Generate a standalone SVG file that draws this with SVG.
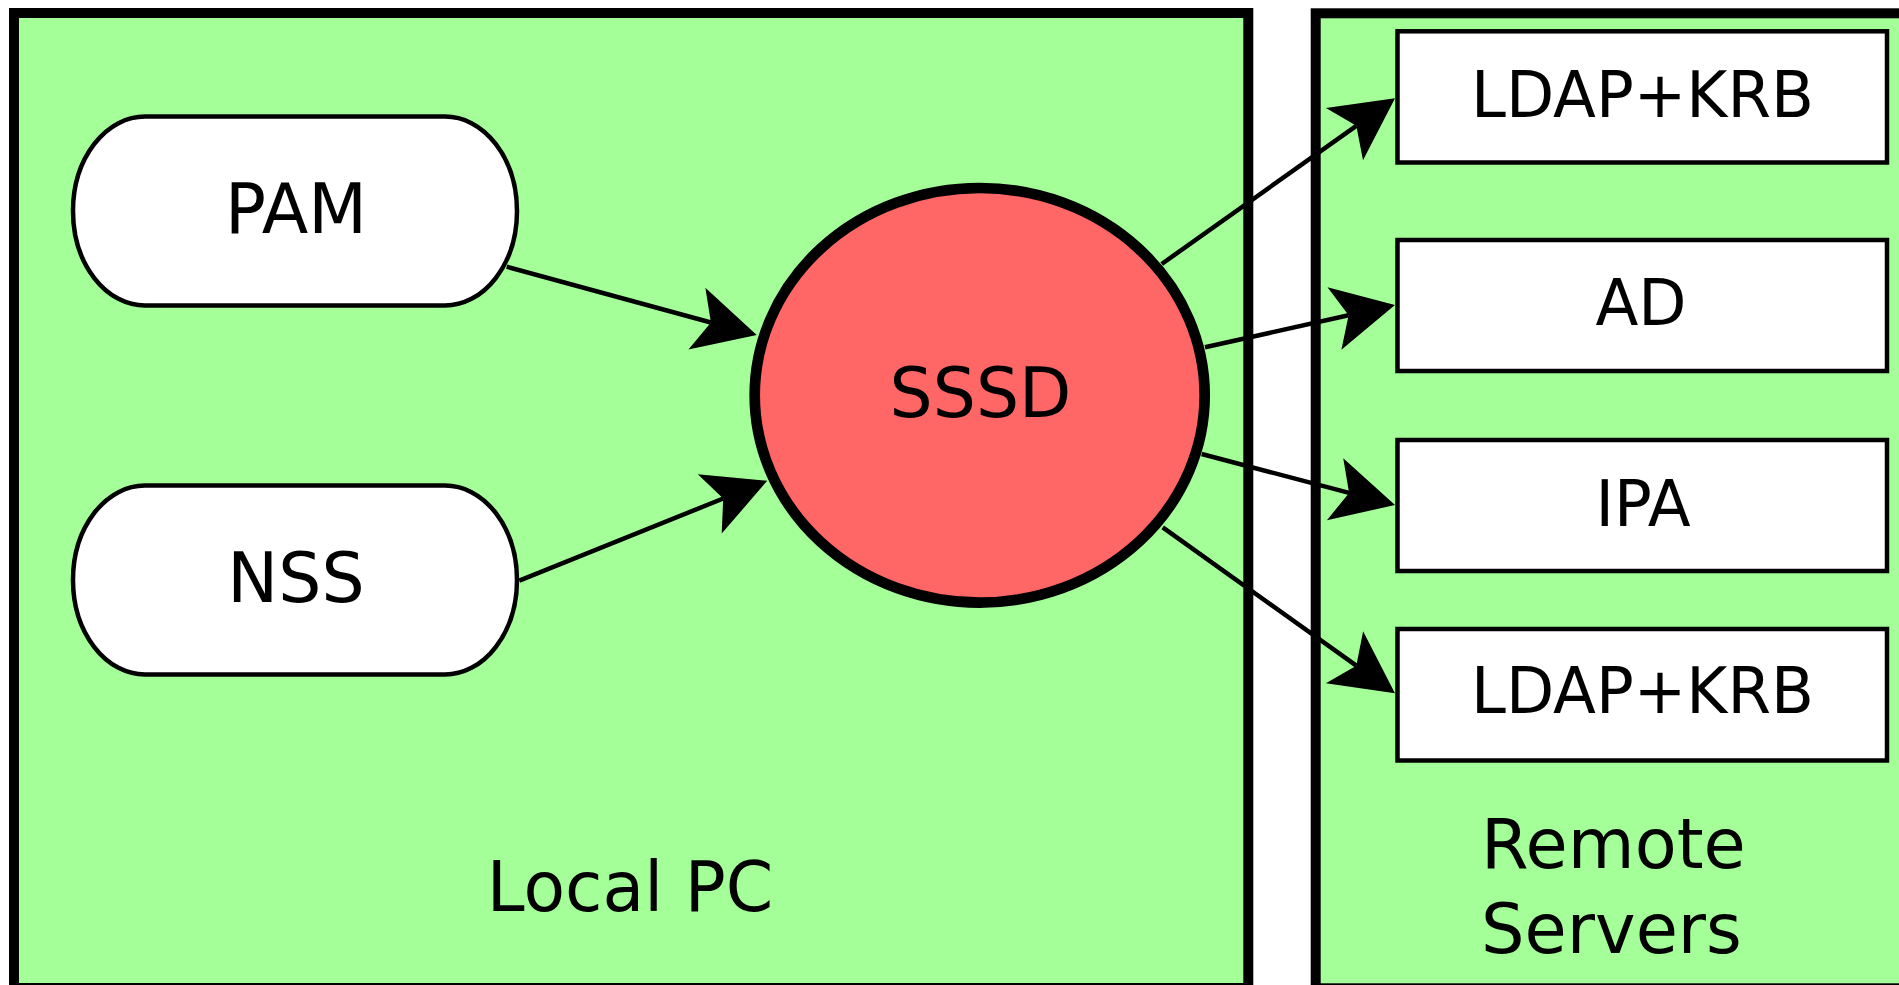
<svg xmlns="http://www.w3.org/2000/svg" width="1899" height="985" viewBox="0 0 1899 985">
  <style>
    .container { fill: #a5ff99; stroke: #000; stroke-width: 10; }
    .capsule { fill: #fff; stroke: #000; stroke-width: 4.5; }
    .box { fill: #fff; stroke: #000; stroke-width: 4.5; }
    .label { font-family: "DejaVu Sans", "Liberation Sans", sans-serif; fill: #000; }
    .big { font-size: 70px; }
    .small { font-size: 64.5px; }
    .mid { text-anchor: middle; }
    .conn { stroke: #000; stroke-width: 4.5; fill: none; marker-end: url(#arrow); }
  </style>
  <defs>
    <marker id="arrow" markerUnits="userSpaceOnUse" orient="auto" refX="0" refY="0" markerWidth="100" markerHeight="100" overflow="visible">
      <path d="M47.5,0 L-14.5,-32 L0,0 L-14.5,32 Z" fill="#000"/>
    </marker>
  </defs>
  <rect width="1899" height="985" fill="#fff"/>

  <g id="local-pc">
    <rect class="container" x="14" y="13" width="1234.3" height="975"/>
    <text class="label big mid" transform="translate(630 911) scale(0.972 1)">Local PC</text>
  </g>
  <g id="remote-servers">
    <rect class="container" x="1315.7" y="13.3" width="600" height="975"/>
    <text class="label" font-size="69" transform="translate(1481 868) scale(0.995 1)">Remote</text>
    <text class="label" font-size="69" transform="translate(1481 953) scale(0.995 1)">Servers</text>
  </g>

  <g id="pam">
    <rect class="capsule" x="73" y="116.5" width="444" height="189" rx="72" ry="94.5"/>
    <text class="label big mid" transform="translate(296 233.3) scale(0.972 1)">PAM</text>
  </g>
  <g id="nss">
    <rect class="capsule" x="73" y="485.5" width="444" height="189" rx="72" ry="94.5"/>
    <text class="label big mid" transform="translate(296 601.7) scale(0.972 1)">NSS</text>
  </g>
  <g id="sssd">
    <ellipse cx="979.7" cy="395.3" rx="225" ry="207.3" fill="#ff6666" stroke="#000" stroke-width="10.7"/>
    <text class="label big mid" transform="translate(980.5 416.7) scale(0.972 1)">SSSD</text>
  </g>
  <g id="ldap-krb-1">
    <rect class="box" x="1397.5" y="31.3" width="489.5" height="131.2"/>
    <text class="label small mid" transform="translate(1642.5 117.3) scale(0.972 1)">LDAP+KRB</text>
  </g>
  <g id="ad">
    <rect class="box" x="1397.5" y="240" width="489.5" height="131"/>
    <text class="label small mid" transform="translate(1641 325) scale(0.972 1)">AD</text>
  </g>
  <g id="ipa">
    <rect class="box" x="1397.5" y="440" width="489.5" height="131"/>
    <text class="label small mid" transform="translate(1643 525.5) scale(0.972 1)">IPA</text>
  </g>
  <g id="ldap-krb-2">
    <rect class="box" x="1397.5" y="629" width="489.5" height="131.5"/>
    <text class="label small mid" transform="translate(1642.5 713.3) scale(0.972 1)">LDAP+KRB</text>
  </g>

  <g id="connectors">
    <line class="conn" x1="506.7" y1="266.7" x2="710.9" y2="322.5"/>
    <line class="conn" x1="519.3" y1="580.7" x2="723.2" y2="498.5"/>
    <line class="conn" x1="1161.7" y1="264" x2="1356.3" y2="125.8"/>
    <line class="conn" x1="1205" y1="347.3" x2="1348.6" y2="315.3"/>
    <line class="conn" x1="1201.7" y1="454" x2="1349.1" y2="492.9"/>
    <line class="conn" x1="1162.7" y1="527.3" x2="1356.3" y2="665.7"/>
  </g>
</svg>
